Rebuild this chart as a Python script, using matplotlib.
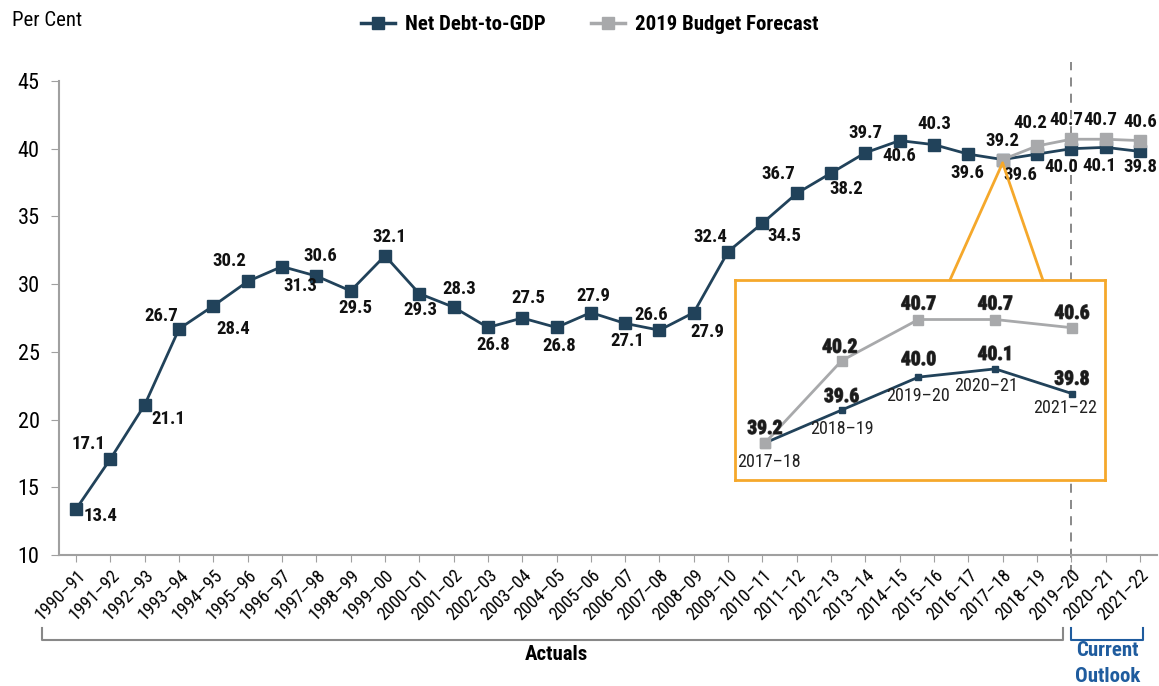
import matplotlib
matplotlib.use("Agg")
import matplotlib.pyplot as plt
import matplotlib.patheffects as pe
from matplotlib import font_manager
from matplotlib.patches import ConnectionPatch
from matplotlib.lines import Line2D
import matplotlib.transforms as mtransforms

# fiscal years on the x axis
years = ['1990–91', '1991–92', '1992–93', '1993–94', '1994–95', '1995–96',
         '1996–97', '1997–98', '1998–99', '1999–00', '2000–01', '2001–02',
         '2002–03', '2003–04', '2004–05', '2005–06', '2006–07', '2007–08',
         '2008–09', '2009–10', '2010–11', '2011–12', '2012–13', '2013–14',
         '2014–15', '2015–16', '2016–17', '2017–18', '2018–19', '2019–20',
         '2020–21', '2021–22']
net_debt = [13.4, 17.1, 21.1, 26.7, 28.4, 30.2, 31.3, 30.6, 29.5, 32.1,
            29.3, 28.3, 26.8, 27.5, 26.8, 27.9, 27.1, 26.6, 27.9, 32.4,
            34.5, 36.7, 38.2, 39.7, 40.6, 40.3, 39.6, 39.2, 39.6, 40.0,
            40.1, 39.8]
budget_years = ['2017–18', '2018–19', '2019–20', '2020–21', '2021–22']
budget_2019 = [39.2, 40.2, 40.7, 40.7, 40.6]
outlook_start = '2019–20'

# label offsets in pixels (dx, dy up) for the net debt series
debt_offsets = [(24, -7), (-22, 15), (24, -14), (-18, 13), (20, -23), (-18, 20),
                (18, -19), (4, 20), (5, -17), (4, 19), (1, -16), (6, 18),
                (5, -18), (6, 20), (3, -19), (3, 17), (2, -18), (-8, 15),
                (14, -19), (-18, 15), (22, -13), (-18, 19), (15, -16), (0, 20),
                (0, -15), (0, 21), (-1, -19), None, (-17, -21), (-10, -18),
                (-6, -19), (0, -16)]
budget_offsets = [(0, 19), (-7, 23), (-5, 19), (-5, 19), (0, 19)]

names = {f.name for f in font_manager.fontManager.ttflist}
FONT = 'Roboto Condensed' if 'Roboto Condensed' in names else 'DejaVu Sans'
plt.rcParams['font.family'] = [FONT, 'DejaVu Sans']

DARK = '#21425A'
GREY = '#A8A9AB'
ORANGE = '#F5A82B'
BLUE = '#1F5C9E'
AXIS = '#A0A0A0'

fig = plt.figure(figsize=(11.59, 6.86), dpi=100)
ax = fig.add_axes([59 / 1159, 1 - 555 / 686, 1098 / 1159, 474 / 686])

x = list(range(len(years)))
bx = [years.index(y) for y in budget_years]

ax.plot(x, net_debt, color=DARK, lw=2, marker='s', ms=8, zorder=3,
        label='Net Debt-to-GDP')
ax.plot(bx, budget_2019, color=GREY, lw=2, marker='s', ms=8, zorder=4,
        label='2019 Budget Forecast')

lab_kw = dict(textcoords='offset pixels', ha='center', va='center',
              fontsize=13.5, fontweight='bold', color='#111111')
for i, (v, off) in enumerate(zip(net_debt, debt_offsets)):
    if off is None:
        continue
    ax.annotate(f'{v:.1f}', (i, v), xytext=off, **lab_kw)
for i, v, off in zip(bx, budget_2019, budget_offsets):
    ax.annotate(f'{v:.1f}', (i, v), xytext=off, **lab_kw)

ax.set_xlim(-0.5, len(years) - 0.5)
ax.set_ylim(10, 45)
ax.set_yticks(range(10, 46, 5))
ax.set_xticks(x)
ax.set_xticklabels(years, rotation=45, ha='right', rotation_mode='anchor',
                   fontsize=13)
ax.tick_params(axis='y', labelsize=16, length=6, color=AXIS, pad=8)
ax.tick_params(axis='x', length=5, color=AXIS, pad=3)
for s in ['top', 'right']:
    ax.spines[s].set_visible(False)
for s in ['left', 'bottom']:
    ax.spines[s].set_color(AXIS)
    ax.spines[s].set_linewidth(1.5)

xo = years.index(outlook_start)
ax.axvline(xo, ymin=-0.04, ymax=1.04, color='#808080', lw=1.3,
           ls=(0, (5, 4)), clip_on=False, zorder=1)

fig.text(12 / 1159, 1 - 20 / 686, 'Per Cent', fontsize=15, va='center')

handles = [Line2D([], [], color=DARK, lw=2.5, marker='s', ms=8),
           Line2D([], [], color=GREY, lw=2.5, marker='s', ms=8)]
fig.legend(handles, ['Net Debt-to-GDP', '2019 Budget Forecast'],
           loc='center', bbox_to_anchor=(590 / 1159, 1 - 25 / 686), ncol=2,
           frameon=False, handlelength=1.6, handletextpad=0.5,
           columnspacing=2.2, prop=dict(family=[FONT, 'DejaVu Sans'],
                                        weight='bold', size=15))

# brackets under the axis
tr = mtransforms.blended_transform_factory(ax.transData, fig.transFigure)
yb, yt = 1 - 640 / 686, 1 - 628 / 686
ax.plot([-0.99, -0.99, xo - 0.25, xo - 0.25], [yt, yb, yb, yt], transform=tr,
        color='#888888', lw=1.5, clip_on=False)
ax.text((-0.99 + xo) / 2, 1 - 655 / 686, 'Actuals', transform=tr,
        ha='center', va='center', fontsize=15, fontweight='bold')
ax.plot([xo, xo, 31.1, 31.1], [yt, yb, yb, yt], transform=tr,
        color=BLUE, lw=1.5, clip_on=False)
ax.text((xo + 31.1) / 2, 1 - 650 / 686, 'Current', transform=tr,
        ha='center', va='center', fontsize=15, fontweight='bold', color=BLUE)
ax.text((xo + 31.1) / 2, 1 - 676 / 686, 'Outlook', transform=tr,
        ha='center', va='center', fontsize=15, fontweight='bold', color=BLUE)

# zoomed inset of the forecast period
ins = fig.add_axes([735 / 1159, 1 - 480 / 686, 370 / 1159, 200 / 686])
ins.set_facecolor('white')
ins.set_xlim(-0.39, 4.43)
ins.set_ylim(38.75, 41.18)
ins.set_xticks([])
ins.set_yticks([])
for s in ins.spines.values():
    s.set_color(ORANGE)
    s.set_linewidth(2)

ix = list(range(len(budget_years)))
debt_tail = net_debt[bx[0]:]
ins.plot(ix, debt_tail, color=DARK, lw=2, marker='s', ms=5, zorder=3)
ins.plot(ix, budget_2019, color=GREY, lw=2, marker='s', ms=6.5, zorder=2)
ins.plot(ix[:1], budget_2019[:1], color=GREY, marker='s', ms=6.5, zorder=4)

shadow = [pe.withStroke(linewidth=0.9, foreground='#444444')]
in_kw = dict(textcoords='offset pixels', ha='center', va='center',
             fontsize=14, fontweight='bold', color='#1a1a1a',
             path_effects=shadow)
grey_in_offsets = [(0, 14), (-2, 13), (0, 15), (0, 15), (0, 14)]
dark_in_offsets = [None, (0, 13), (0, 17), (0, 14), (0, 14)]
year_offsets = [(4, -19), (0, -19), (0, -19), (-9, -17), (-7, -14)]
for i in ix:
    ins.annotate(f'{budget_2019[i]:.1f}', (i, budget_2019[i]),
                 xytext=grey_in_offsets[i], **in_kw)
    if dark_in_offsets[i] is not None:
        ins.annotate(f'{debt_tail[i]:.1f}', (i, debt_tail[i]),
                     xytext=dark_in_offsets[i], **in_kw)
    ins.annotate(budget_years[i], (i, debt_tail[i]), xytext=year_offsets[i],
                 textcoords='offset pixels', ha='center', va='center',
                 fontsize=13, color='#222222')

# callout from the main chart point to the inset
for fx in (0.581, 0.832):
    con = ConnectionPatch(xyA=(bx[0], budget_2019[0] - 0.25), coordsA=ax.transData,
                          xyB=(fx, 1), coordsB=ins.transAxes,
                          color=ORANGE, lw=2)
    fig.add_artist(con)

fig.savefig('out.png', dpi=100)
